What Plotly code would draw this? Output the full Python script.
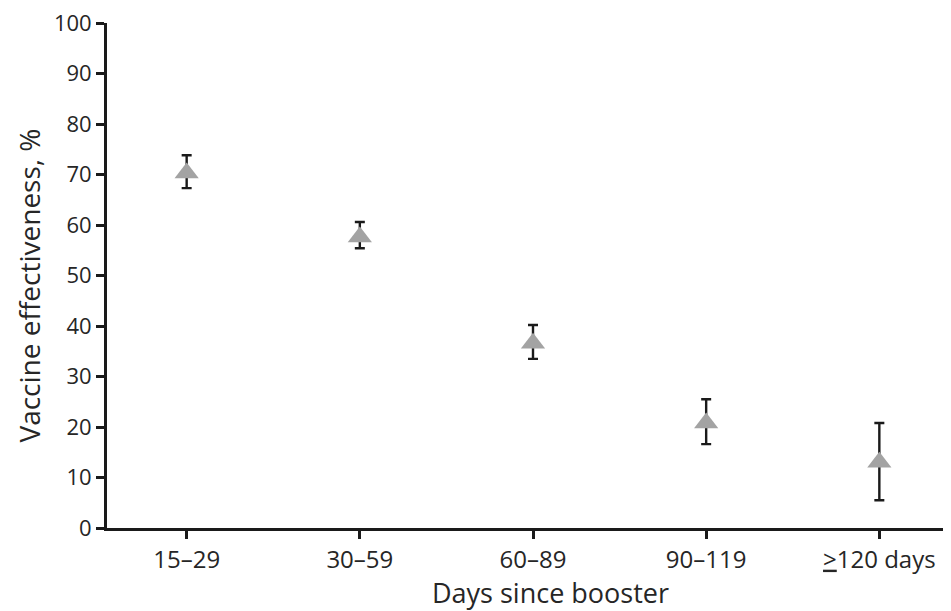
import plotly.graph_objects as go

categories = ["15–29", "30–59", "60–89", "90–119", "≥120 days"]
tick_labels = ["15–29", "30–59", "60–89", "90–119", "<u>&gt;</u>120 days"]
ve = [70.3, 57.6, 36.6, 20.8, 13.0]
ci_low = [67.3, 55.4, 33.5, 16.6, 5.5]
ci_high = [73.8, 60.6, 40.2, 25.5, 20.8]
y_ticks = list(range(0, 101, 10))
x_title = "Days since booster"
y_title = "Vaccine effectiveness, %"

err_plus = [h - v for h, v in zip(ci_high, ve)]
err_minus = [v - l for v, l in zip(ve, ci_low)]
xpos = list(range(len(categories)))

fig = go.Figure()
fig.add_trace(go.Scatter(
    x=xpos, y=ve, mode="markers",
    marker=dict(symbol="triangle-up", size=21, color="#a3a3a3",
                line=dict(width=0)),
    error_y=dict(type="data", symmetric=False, array=err_plus, arrayminus=err_minus,
                 color="#1a1a1a", thickness=2.4, width=5),
    showlegend=False,
))

font_family = "Open Sans, Lato, sans-serif"
txt_color = "#262626"
fig.update_layout(
    width=951, height=611,
    margin=dict(l=99, r=0, t=15, b=91, autoexpand=False),
    paper_bgcolor="white", plot_bgcolor="white",
    font=dict(family=font_family, color=txt_color),
    xaxis=dict(
        range=[-0.46, 4.46], tickmode="array", tickvals=xpos, ticktext=tick_labels,
        showline=True, linecolor="#1a1a1a", linewidth=2.8, showgrid=False, zeroline=False,
        ticks="outside", ticklen=8, tickwidth=2.8, tickcolor="#1a1a1a",
        tickfont=dict(size=24, family=font_family, color=txt_color),
        automargin=False, ticklabeloverflow="allow",
    ),
    yaxis=dict(
        range=[0, 100], tickmode="array", tickvals=y_ticks,
        showline=True, linecolor="#1a1a1a", linewidth=2.8, showgrid=False, zeroline=False,
        ticks="outside", ticklen=8, tickwidth=2.8, tickcolor="#1a1a1a",
        tickfont=dict(size=22, family=font_family, color=txt_color),
        automargin=False, ticklabeloverflow="allow",
    ),
    annotations=[
        dict(text=x_title, xref="paper", yref="paper", x=0.52, y=-0.128,
             xanchor="center", yanchor="middle", showarrow=False,
             font=dict(size=27, family=font_family, color=txt_color)),
        dict(text=y_title, xref="paper", yref="paper", x=-0.091, y=0.481,
             xanchor="center", yanchor="middle", showarrow=False, textangle=-90,
             font=dict(size=28, family=font_family, color=txt_color)),
    ],
)

fig.write_html("out.html")
